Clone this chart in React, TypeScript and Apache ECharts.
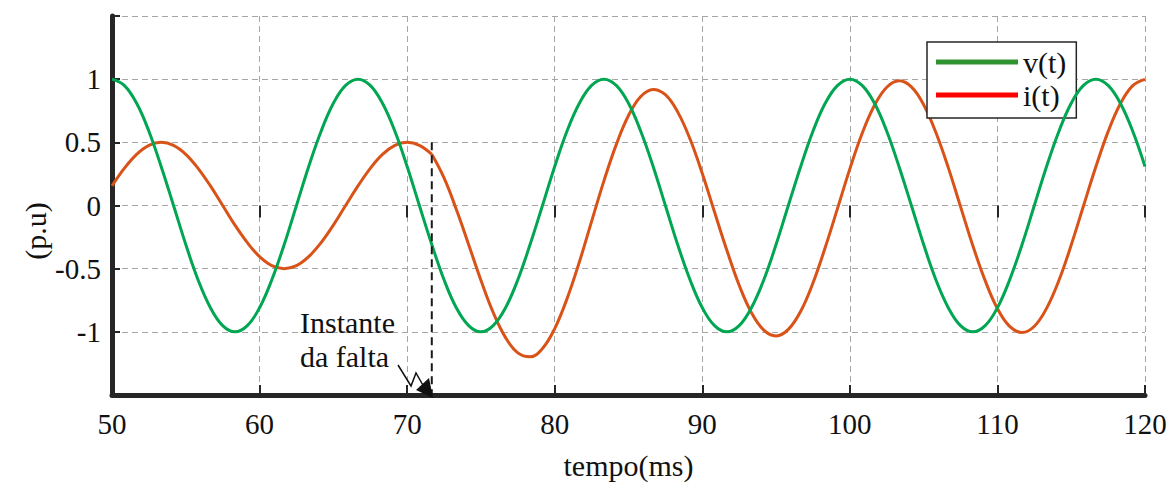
import React, { useEffect, useRef } from "react";
import * as echarts from "echarts";

// time (ms)
const time = [
  50, 50.83, 51.67, 52.5, 53.33, 54.17, 55, 55.83, 56.67, 57.5, 58.33, 59.17,
  60, 60.83, 61.67, 62.5, 63.33, 64.17, 65, 65.83, 66.67, 67.5, 68.33, 69.17,
  70, 70.83, 71.67, 72.5, 73.33, 74.17, 75, 75.83, 76.67, 77.5, 78.33, 79.17,
  80, 80.83, 81.67, 82.5, 83.33, 84.17, 85, 85.83, 86.67, 87.5, 88.33, 89.17,
  90, 90.83, 91.67, 92.5, 93.33, 94.17, 95, 95.83, 96.67, 97.5, 98.33, 99.17,
  100, 100.83, 101.67, 102.5, 103.33, 104.17, 105, 105.83, 106.67, 107.5, 108.33, 109.17,
  110, 110.83, 111.67, 112.5, 113.33, 114.17, 115, 115.83, 116.67, 117.5, 118.33, 119.17,
  120,
];

// v(t) (p.u)
const voltage = [
  1, 0.951, 0.809, 0.588, 0.309, 0, -0.309, -0.588, -0.809, -0.951,
  -1, -0.951, -0.809, -0.588, -0.309, 0, 0.309, 0.588, 0.809, 0.951,
  1, 0.951, 0.809, 0.588, 0.309, 0, -0.309, -0.588, -0.809, -0.951,
  -1, -0.951, -0.809, -0.588, -0.309, 0, 0.309, 0.588, 0.809, 0.951,
  1, 0.951, 0.809, 0.588, 0.309, 0, -0.309, -0.588, -0.809, -0.951,
  -1, -0.951, -0.809, -0.588, -0.309, 0, 0.309, 0.588, 0.809, 0.951,
  1, 0.951, 0.809, 0.588, 0.309, 0, -0.309, -0.588, -0.809, -0.951,
  -1, -0.951, -0.809, -0.588, -0.309, 0, 0.309, 0.588, 0.809, 0.951,
  1, 0.951, 0.809, 0.588, 0.309,
];

// i(t) (p.u)
const current = [
  0.155, 0.294, 0.405, 0.476, 0.5, 0.476, 0.405, 0.294, 0.155, 0,
  -0.155, -0.294, -0.405, -0.476, -0.5, -0.476, -0.405, -0.294, -0.155, 0,
  0.155, 0.294, 0.405, 0.476, 0.5, 0.476, 0.405,
  0.218, -0.03, -0.31, -0.592, -0.847, -1.046, -1.167, -1.198, -1.132, -0.974,
  -0.739, -0.447, -0.126, 0.193, 0.482, 0.712, 0.863, 0.919, 0.877, 0.741,
  0.526, 0.253, -0.052, -0.356, -0.631, -0.848, -0.987, -1.033, -0.981, -0.837,
  -0.613, -0.332, -0.021, 0.29, 0.57, 0.793, 0.936, 0.987, 0.939, 0.798,
  0.578, 0.3, -0.009, -0.317, -0.595, -0.816, -0.957, -1.006, -0.956, -0.814,
  -0.592, -0.313, -0.004, 0.306, 0.585, 0.806, 0.949, 0.998,
];

const faultIndex = 26; // instante da falta (71.67 ms)
const faultLineTop = 0.5;

const xTicks = { min: 50, max: 120, interval: 10 };
const yTicks = { min: -1.5, max: 1.5, interval: 0.5 };

const FONT = "Liberation Serif";
const DARK = "#262626";

export default function App() {
  const ref = useRef<HTMLDivElement>(null);

  useEffect(() => {
    if (!ref.current) return;
    const chart = echarts.init(ref.current, undefined, { renderer: "svg" });

    const pts = (arr: number[]) => time.map((t, i) => [t, arr[i]]);
    const vData = pts(voltage);
    const iData = pts(current);
    const iPre = iData.slice(0, faultIndex + 1);
    const iPost = iData.slice(faultIndex);
    const tf = time[faultIndex];

    const splitLine = {
      show: true,
      lineStyle: { color: "#a6a6a6", width: 1, type: [6, 4] as any },
    };

    chart.setOption({
      animation: false,
      backgroundColor: "#ffffff",
      grid: { left: 112, right: 25, top: 16, bottom: 87 },
      legend: {
        orient: "vertical",
        left: 927,
        top: 42,
        padding: [5, 10, 8, 9],
        itemWidth: 82,
        itemHeight: 5,
        itemGap: 3,
        icon: "rect",
        backgroundColor: "#ffffff",
        borderColor: DARK,
        borderWidth: 1.5,
        borderRadius: 0,
        textStyle: { fontSize: 30, fontFamily: FONT, color: "#111", lineHeight: 30 },
        data: [
          { name: "v(t)", itemStyle: { color: "#2e932e" } },
          { name: "i(t)", itemStyle: { color: "#ff0000" } },
        ],
      },
      xAxis: [
        {
          type: "value",
          ...xTicks,
          position: "bottom",
          name: "tempo(ms)",
          nameLocation: "middle",
          nameGap: 55,
          nameTextStyle: { fontSize: 30, fontFamily: FONT, color: "#111" },
          axisLine: { show: true, onZero: false, lineStyle: { color: DARK, width: 5 } },
          axisTick: { show: true, inside: true, length: 10, lineStyle: { color: DARK, width: 2 } },
          axisLabel: { fontSize: 29, fontFamily: FONT, color: "#111", margin: 14 },
          splitLine,
        },
        {
          type: "value",
          ...xTicks,
          position: "top",
          axisLine: { show: false },
          axisTick: { show: true, inside: true, length: 12, lineStyle: { color: DARK, width: 2 } },
          axisLabel: { show: false },
          splitLine: { show: false },
        },
      ],
      yAxis: {
        type: "value",
        ...yTicks,
        axisLine: { show: true, onZero: false, lineStyle: { color: DARK, width: 5 } },
        axisTick: { show: true, inside: true, length: 8, lineStyle: { color: DARK, width: 2 } },
        axisLabel: {
          fontSize: 29,
          fontFamily: FONT,
          color: "#111",
          margin: 11,
          formatter: (v: number) => (Math.abs(v) > 1.2 ? "" : String(v)),
        },
        splitLine,
      },
      series: [
        {
          name: "i(t)",
          type: "line",
          data: iPre,
          showSymbol: false,
          symbol: "none",
          smooth: 0.4,
          lineStyle: { color: "#d95319", width: 3 },
          itemStyle: { color: "#d95319" },
          z: 3,
        },
        {
          name: "i(t)",
          type: "line",
          data: iPost,
          showSymbol: false,
          symbol: "none",
          smooth: 0.4,
          lineStyle: { color: "#d95319", width: 3 },
          itemStyle: { color: "#d95319" },
          z: 3,
        },
        {
          name: "v(t)",
          type: "line",
          data: vData,
          showSymbol: false,
          symbol: "none",
          smooth: 0.4,
          lineStyle: { color: "#00a651", width: 3 },
          itemStyle: { color: "#00a651" },
          z: 4,
        },
        {
          name: "falta",
          type: "line",
          data: [
            [tf, faultLineTop],
            [tf, yTicks.min],
          ],
          showSymbol: false,
          symbol: "none",
          silent: true,
          lineStyle: { color: "#1a1a1a", width: 2, type: [8, 5] as any },
          z: 5,
        },
      ],
      graphic: [
        {
          type: "text",
          x: 35,
          y: 231,
          rotation: Math.PI / 2,
          style: {
            text: "(p.u)",
            fontSize: 30,
            fontFamily: FONT,
            fill: "#111",
            align: "center",
            verticalAlign: "middle",
          },
        },
        {
          type: "text",
          x: 300,
          y: 305,
          style: {
            text: "Instante\nda falta",
            fontSize: 30,
            fontFamily: FONT,
            lineHeight: 34,
            fill: "#111",
          },
          z: 10,
        },
        {
          type: "polyline",
          shape: { points: [[398, 365], [411, 386], [416, 373], [424, 387]] },
          style: { stroke: "#111", lineWidth: 1.5, fill: null },
          z: 10,
        },
        {
          type: "polygon",
          shape: { points: [[416, 390], [429, 378], [433, 398]] },
          style: { fill: "#111" },
          z: 10,
        },
      ],
    });

    return () => chart.dispose();
  }, []);

  return (
    <div
      ref={ref}
      style={{ position: "fixed", left: 0, top: 0, width: 1170, height: 485 }}
    />
  );
}
